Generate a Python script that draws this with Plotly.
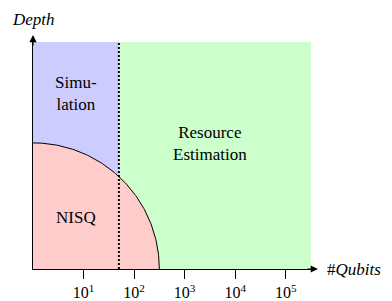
import numpy as np
import plotly.graph_objects as go

# ---- data ----
qubit_ticks = [10, 100, 1000, 10000, 100000]
tick_labels = ["10<sup>1</sup>", "10<sup>2</sup>", "10<sup>3</sup>", "10<sup>4</sup>", "10<sup>5</sup>"]
qubit_min = 1
qubit_max = 10 ** 5.5
depth_max = 1.8
sim_limit_qubits = 50          # classical simulation boundary
nisq_qubits = 316              # NISQ arc reaches ~10^2.5 qubits
nisq_depth = 1.0               # NISQ arc reaches this depth

region_labels = ["Simu-<br>lation", "Resource<br>Estimation", "NISQ"]

BLUE = "rgb(204,204,255)"
GREEN = "rgb(204,255,204)"
RED = "rgb(255,204,204)"
FONT = "Liberation Serif"

fig = go.Figure()

# Simulation region
fig.add_trace(go.Scatter(
    x=[qubit_min, sim_limit_qubits, sim_limit_qubits, qubit_min],
    y=[0, 0, depth_max, depth_max],
    fill="toself", fillcolor=BLUE, mode="none", hoverinfo="skip", showlegend=False))
# Resource estimation region
fig.add_trace(go.Scatter(
    x=[sim_limit_qubits, qubit_max, qubit_max, sim_limit_qubits],
    y=[0, 0, depth_max, depth_max],
    fill="toself", fillcolor=GREEN, mode="none", hoverinfo="skip", showlegend=False))

# NISQ quarter arc (circular in log-x / linear-y display space)
t = np.linspace(0, np.pi / 2, 120)
arc_x = nisq_qubits ** np.cos(t)
arc_y = nisq_depth * np.sin(t)
fig.add_trace(go.Scatter(
    x=np.concatenate([[qubit_min], arc_x, [qubit_min]]),
    y=np.concatenate([[0], arc_y, [0]]),
    fill="toself", fillcolor=RED, mode="none", hoverinfo="skip", showlegend=False))

# Dotted simulation boundary
fig.add_trace(go.Scatter(
    x=[sim_limit_qubits, sim_limit_qubits], y=[0, depth_max],
    mode="lines", line=dict(color="black", width=2, dash="2px,2px"),
    hoverinfo="skip", showlegend=False))

# Arc outline
fig.add_trace(go.Scatter(
    x=arc_x, y=arc_y, mode="lines", line=dict(color="black", width=1),
    hoverinfo="skip", showlegend=False))

annotations = [
    dict(x=0.155, y=0.775, text=region_labels[0]),
    dict(x=0.637, y=0.553, text=region_labels[1]),
    dict(x=0.155, y=0.225, text=region_labels[2]),
]
for a in annotations:
    a.update(xref="paper", yref="paper", showarrow=False, xanchor="center", yanchor="middle",
             font=dict(family=FONT, size=17, color="black"))

# axis titles
annotations.append(dict(x=0, y=1.097, xref="paper", yref="paper", showarrow=False,
                        xanchor="center", yanchor="middle",
                        text="<i>Depth</i>", font=dict(family=FONT, size=17, color="black")))
annotations.append(dict(x=1.05, y=0.0, xref="paper", yref="paper", showarrow=False,
                        xanchor="left", yanchor="middle", text="#<i>Qubits</i>",
                        font=dict(family=FONT, size=17, color="black")))
# axis arrows
annotations.append(dict(x=1.025, y=0, xref="paper", yref="paper", ax=-12, ay=0,
                        showarrow=True, arrowhead=2, arrowsize=1.2, arrowwidth=1.2,
                        arrowcolor="black", text=""))
annotations.append(dict(x=0, y=1.031, xref="paper", yref="paper", ax=0, ay=12,
                        showarrow=True, arrowhead=2, arrowsize=1.2, arrowwidth=1.2,
                        arrowcolor="black", text=""))

fig.update_layout(
    width=392, height=301, autosize=False,
    margin=dict(l=33, r=81, t=42, b=32, autoexpand=False),
    paper_bgcolor="white", plot_bgcolor="white",
    annotations=annotations,
    xaxis=dict(type="log", range=[0, 5.5], tickvals=qubit_ticks, ticktext=tick_labels,
               ticks="outside", ticklen=9, tickwidth=1, tickcolor="black",
               showline=True, linecolor="black", linewidth=1.2,
               showgrid=False, zeroline=False,
               tickfont=dict(family=FONT, size=16, color="black")),
    yaxis=dict(range=[0, depth_max], showticklabels=False, ticks="",
               showline=True, linecolor="black", linewidth=1.2,
               showgrid=False, zeroline=False),
)

fig.write_html("out.html", config={"displayModeBar": False},
               post_script="document.body.style.margin='0px';")
